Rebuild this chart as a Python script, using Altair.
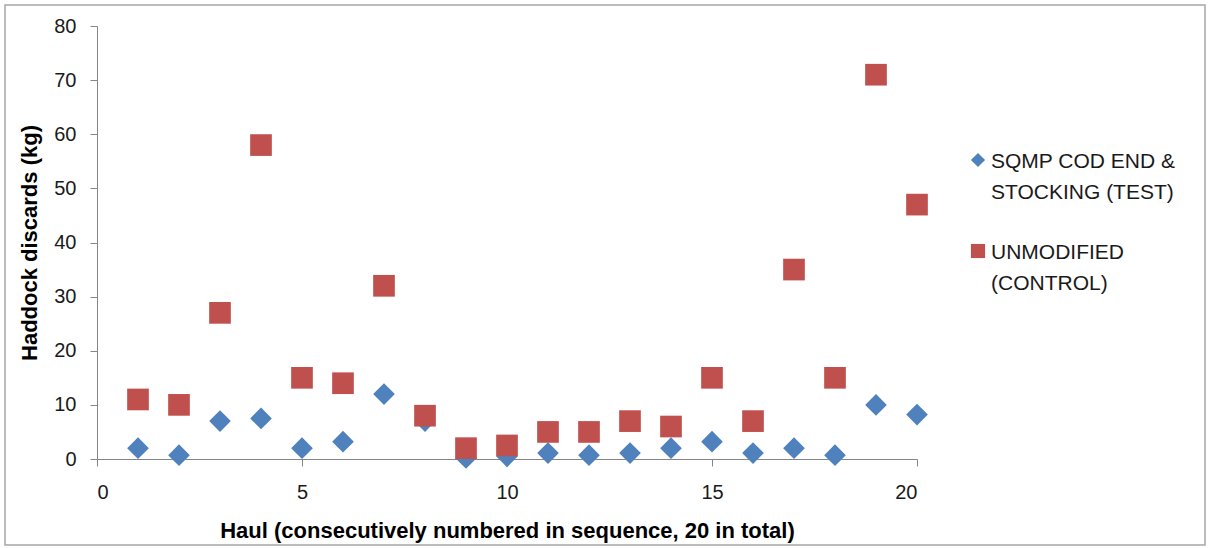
import altair as alt
import pandas as pd

hauls = list(range(1, 21))
test_vals = [2, 0.7, 7, 7.5, 2, 3.2, 12, 7, 0.2, 0.5, 1.1, 0.7, 1.1, 2, 3.2, 1.1, 2, 0.7, 10, 8.2]
control_vals = [11, 10, 27, 58, 15, 14, 32, 8, 2, 2.5, 5, 5, 7, 6, 15, 7, 35, 15, 71, 47]
series_names = ["SQMP COD END & STOCKING (TEST)", "UNMODIFIED (CONTROL)"]
legend_lines = ["SQMP COD END &\nSTOCKING (TEST)", "UNMODIFIED\n(CONTROL)"]
series_colors = ["#4F81BD", "#C0504D"]
series_shapes = ["diamond", "square"]
x_ticks = [0, 5, 10, 15, 20]
y_ticks = [0, 10, 20, 30, 40, 50, 60, 70, 80]

df = pd.DataFrame(
    {
        "haul": hauls * 2,
        "kg": test_vals + control_vals,
        "series": [series_names[0]] * 20 + [series_names[1]] * 20,
    }
)

FONT = "Liberation Sans"
one = pd.DataFrame({"a": [0]})

border = alt.Chart(one).mark_rect(
    fill=None, stroke="#A6A6A6", strokeWidth=1.5
).encode(
    x=alt.value(-92), x2=alt.value(1108), y=alt.value(-21), y2=alt.value(519)
)

points = alt.Chart(df).mark_point(filled=True, opacity=1, size=470).encode(
    x=alt.X(
        "haul:Q",
        scale=alt.Scale(domain=[0, 20], nice=False),
        axis=alt.Axis(
            values=x_ticks,
            title="Haul (consecutively numbered in sequence, 20 in total)",
            labelPadding=16,
            titlePadding=18,
        ),
    ),
    y=alt.Y(
        "kg:Q",
        scale=alt.Scale(domain=[0, 80], nice=False),
        axis=alt.Axis(
            values=y_ticks,
            title="Haddock discards (kg)",
            labelPadding=14,
            titlePadding=12,
        ),
    ),
    color=alt.Color(
        "series:N",
        scale=alt.Scale(domain=series_names, range=series_colors),
        legend=None,
    ),
    shape=alt.Shape(
        "series:N",
        scale=alt.Scale(domain=series_names, range=series_shapes),
        legend=None,
    ),
)

legend_layers = []
for i, (lbl, col, shp) in enumerate(zip(legend_lines, series_colors, series_shapes)):
    sy = 134 + i * 91
    sym = alt.Chart(one).mark_point(
        filled=True, opacity=1, shape=shp, size=200, color=col
    ).encode(x=alt.value(881), y=alt.value(sy))
    txt = alt.Chart(pd.DataFrame({"t": [lbl]})).mark_text(
        align="left",
        baseline="alphabetic",
        lineBreak="\n",
        lineHeight=31,
        font=FONT,
        fontSize=21,
        color="#1a1a1a",
    ).encode(x=alt.value(894), y=alt.value(sy + 8), text="t:N")
    legend_layers += [sym, txt]

chart = (
    alt.layer(border, points, *legend_layers)
    .properties(
        width=820,
        height=433,
        background="white",
        autosize=alt.AutoSizeParams(type="none"),
        padding={"left": 97, "top": 26, "right": 291, "bottom": 89},
    )
    .configure_view(stroke=None)
    .configure_axis(
        grid=False,
        domainColor="#868686",
        tickColor="#868686",
        tickSize=7,
        labelFont=FONT,
        labelFontSize=20,
        labelColor="#1a1a1a",
        titleFont=FONT,
        titleFontSize=22,
        titleFontWeight="bold",
        titleColor="#000000",
    )
)

chart.save("out.html", embed_options={"renderer": "svg", "actions": False})
